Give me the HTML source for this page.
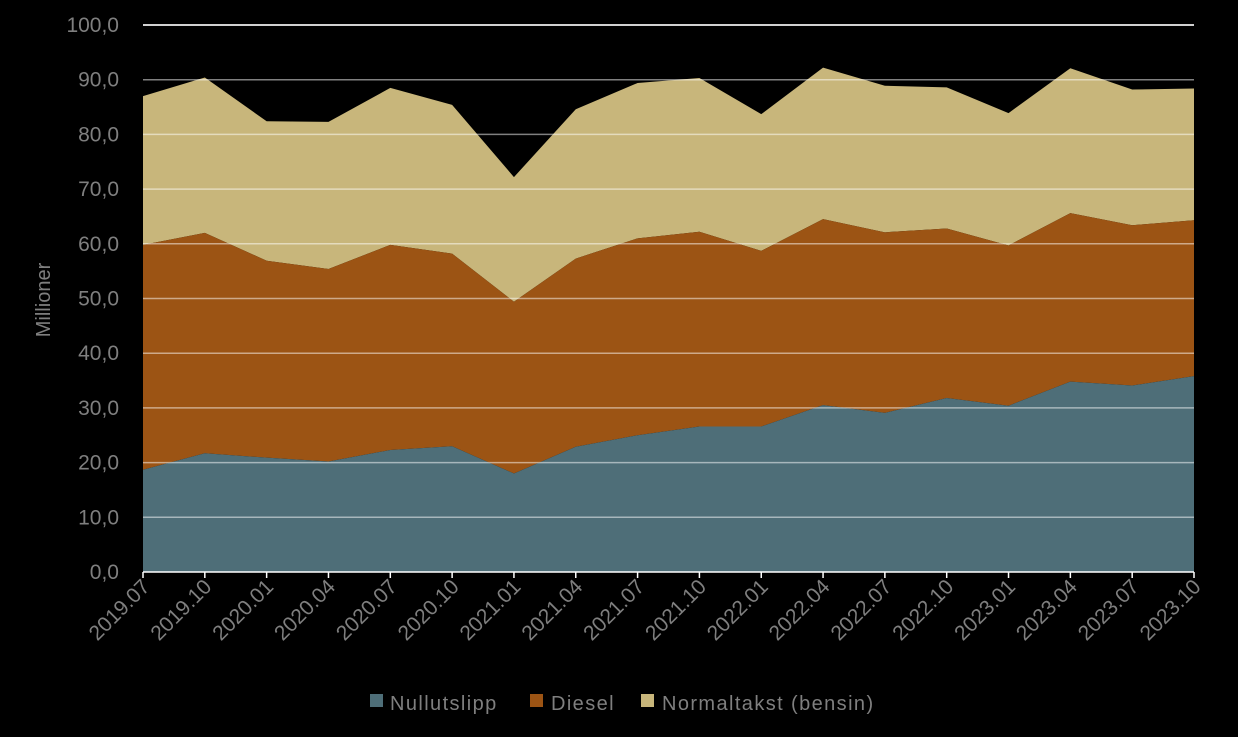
<!DOCTYPE html>
<html><head><meta charset="utf-8"><style>
html,body{margin:0;padding:0;background:#000;}
svg{display:block;font-family:"Liberation Sans",sans-serif;}
</style></head><body>
<svg id="s" width="1238" height="737" viewBox="0 0 1238 737" xmlns="http://www.w3.org/2000/svg">
<rect width="1238" height="737" fill="#000"/>
<g id="areas"></g>
<g id="grid"></g>
<g id="labels" fill="#7f7f7f" font-size="21"></g>
<text transform="translate(50,300) rotate(-90)" text-anchor="middle" fill="#7f7f7f" font-size="20">Millioner</text>
<g font-size="20" fill="#7f7f7f" letter-spacing="1.4">
<rect x="370" y="694" width="13" height="13" fill="#4e6e78"/><text x="390" y="710">Nullutslipp</text>
<rect x="530" y="694" width="13" height="13" fill="#9c5414"/><text x="551" y="710">Diesel</text>
<rect x="641" y="694" width="13" height="13" fill="#c8b67b"/><text x="662" y="710">Normaltakst (bensin)</text>
</g>
</svg>
<script>
var n=[18.7,21.7,20.9,20.2,22.3,23.0,18.0,22.9,25.0,26.6,26.6,30.5,29.1,31.8,30.4,34.8,34.1,35.8];
var d=[59.8,62.0,56.9,55.4,59.8,58.2,49.4,57.3,61.0,62.2,58.7,64.5,62.1,62.8,59.7,65.6,63.4,64.3];
var t=[87.0,90.4,82.4,82.3,88.5,85.4,72.2,84.6,89.4,90.3,83.7,92.2,88.9,88.6,83.9,92.1,88.2,88.4];
var lab=["2019.07","2019.10","2020.01","2020.04","2020.07","2020.10","2021.01","2021.04","2021.07","2021.10","2022.01","2022.04","2022.07","2022.10","2023.01","2023.04","2023.07","2023.10"];
var X=function(i){return 143+i*(1194-143)/17}, Y=function(v){return 572-v*5.47};
var NS="http://www.w3.org/2000/svg";
function el(tag,attrs,parent,txt){var e=document.createElementNS(NS,tag);for(var k in attrs)e.setAttribute(k,attrs[k]);if(txt)e.textContent=txt;document.getElementById(parent).appendChild(e);return e;}
function area(top,bot,col){var p="M";for(var i=0;i<18;i++)p+=X(i)+","+Y(top[i])+" L";for(var i=17;i>=0;i--)p+=X(i)+","+Y(bot?bot[i]:0)+(i?" L":" Z");el("path",{d:p,fill:col},"areas");}
area(t,d,"#c8b67b");area(d,n,"#9c5414");area(n,null,"#4e6e78");
for(var v=10;v<=100;v+=10){el("line",{x1:143,x2:1194,y1:Y(v),y2:Y(v),stroke:"rgba(255,255,255,0.5)","stroke-width":1.5},"grid");}
el("line",{x1:143,x2:1194,y1:Y(100),y2:Y(100),stroke:"#fff","stroke-width":1.5},"grid");
el("line",{x1:143,x2:1194,y1:572,y2:572,stroke:"#fff","stroke-width":1.5},"grid");
for(var i=0;i<18;i++)el("line",{x1:X(i),x2:X(i),y1:572,y2:578,stroke:"#fff","stroke-width":1.5},"grid");
for(var v=0;v<=100;v+=10)el("text",{x:119,y:Y(v)+7,"text-anchor":"end"},"labels",v.toFixed(1).replace(".",","));
for(var i=0;i<18;i++)el("text",{transform:"translate("+(X(i)+8)+",588) rotate(-45)","text-anchor":"end"},"labels",lab[i]);
</script>
</body></html>
